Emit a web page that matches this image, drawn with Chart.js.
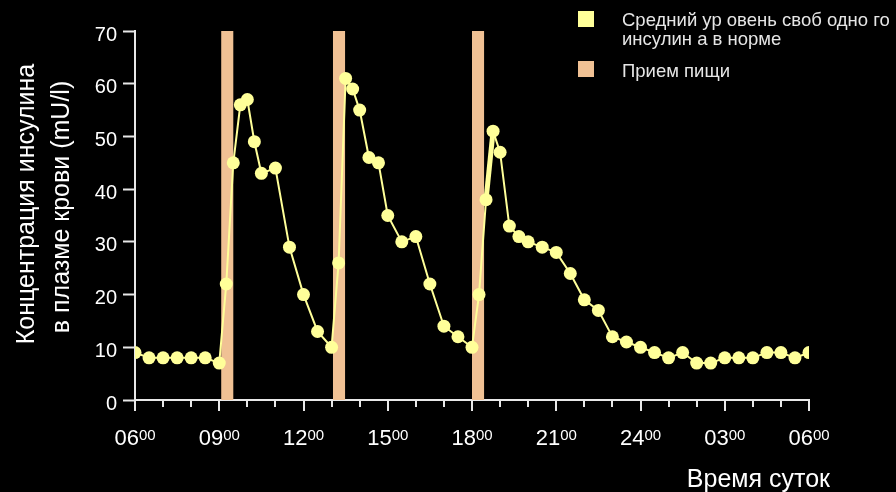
<!DOCTYPE html>
<html>
<head>
<meta charset="utf-8">
<script src="https://cdn.jsdelivr.net/npm/chart.js@4.4.1/dist/chart.umd.min.js"></script>
<style>
  html, body { margin: 0; padding: 0; background: #000; }
  canvas { display: block; }
</style>
</head>
<body>
<canvas id="chart" width="896" height="492"></canvas>
<script>
// Sampling times, in hours elapsed since 06:00
const sampleHours = [0, 0.5, 1, 1.5, 2, 2.5, 3, 3.25, 3.5, 3.75, 4, 4.25, 4.5, 5, 5.5, 6, 6.5, 7,
  7.25, 7.5, 7.75, 8, 8.33, 8.67, 9, 9.5, 10, 10.5, 11, 11.5, 12, 12.25, 12.5, 12.75, 13, 13.33, 13.67, 14,
  14.5, 15, 15.5, 16, 16.5, 17, 17.5, 18, 18.5, 19, 19.5, 20, 20.5, 21, 21.5, 22, 22.5, 23, 23.5, 24];
// Mean free insulin in plasma, mU/l
const insulinLevels = [9, 8, 8, 8, 8, 8, 7, 22, 45, 56, 57, 49, 43, 44, 29, 20, 13, 10,
  26, 61, 59, 55, 46, 45, 35, 30, 31, 22, 14, 12, 10, 20, 38, 51, 47, 33, 31, 30,
  29, 28, 24, 19, 17, 12, 11, 10, 9, 8, 9, 7, 7, 8, 8, 8, 9, 9, 8, 9];
// Meals: start and end, hours since 06:00
const mealStart = [3.07, 7.05, 12.0];
const mealEnd = [3.5, 7.48, 12.43];
// Clock labels every three hours
const clockLabels = ['06', '09', '12', '15', '18', '21', '24', '03', '06'];
const yTicks = [0, 10, 20, 30, 40, 50, 60, 70];

const FONT = "'Liberation Sans', Arial, sans-serif";
const INSULIN_COLOR = '#FFFF99';
const MEAL_COLOR = '#F0C194';
const TEXT_COLOR = '#FFFFFF';
const AXIS_COLOR = '#E8E8E8';

const points = sampleHours.map((h, i) => ({ x: h, y: insulinLevels[i] }));

const decorations = {
  id: 'decorations',
  beforeDatasetsDraw(chart) {
    const { ctx, scales: { x, y } } = chart;
    ctx.save();
    ctx.fillStyle = MEAL_COLOR;
    const top = y.getPixelForValue(yTicks[yTicks.length - 1]);
    const bottom = y.getPixelForValue(0);
    mealStart.forEach((s, i) => {
      const x0 = x.getPixelForValue(s);
      const x1 = x.getPixelForValue(mealEnd[i]);
      ctx.fillRect(x0, top, x1 - x0, bottom - top);
    });
    ctx.restore();
  },
  afterDraw(chart) {
    const { ctx, scales: { x, y } } = chart;
    const base = y.getPixelForValue(0);
    ctx.save();

    // hour tick marks, longer every three hours
    ctx.strokeStyle = AXIS_COLOR;
    ctx.lineWidth = 2;
    for (let h = 0; h <= 24; h++) {
      const px = Math.round(x.getPixelForValue(h));
      const len = h % 3 === 0 ? 11 : 7;
      ctx.beginPath();
      ctx.moveTo(px, base);
      ctx.lineTo(px, base + len);
      ctx.stroke();
    }

    // clock labels with superscript minutes
    ctx.fillStyle = TEXT_COLOR;
    ctx.textBaseline = 'alphabetic';
    ctx.textAlign = 'left';
    clockLabels.forEach((lab, i) => {
      const px = x.getPixelForValue(i * 3);
      ctx.font = `22px ${FONT}`;
      const wMain = ctx.measureText(lab).width;
      ctx.font = `15px ${FONT}`;
      const wSup = ctx.measureText('00').width;
      const left = px - (wMain + wSup) / 2;
      ctx.font = `22px ${FONT}`;
      ctx.fillText(lab, left, 445);
      ctx.font = `15px ${FONT}`;
      ctx.fillText('00', left + wMain, 440);
    });

    // x axis title
    ctx.font = `25px ${FONT}`;
    ctx.textAlign = 'right';
    ctx.fillText('Время суток', 830, 487);

    // y axis title, two rotated lines
    ctx.textAlign = 'center';
    ctx.textBaseline = 'middle';
    ctx.font = `25px ${FONT}`;
    [['Концентрация инсулина', 27, 204], ['в плазме крови (mU/l)', 62, 207]].forEach(([t, cx, cy]) => {
      ctx.save();
      ctx.translate(cx, cy);
      ctx.rotate(-Math.PI / 2);
      ctx.fillText(t, 0, 0);
      ctx.restore();
    });

    // legend
    ctx.textAlign = 'left';
    ctx.textBaseline = 'alphabetic';
    ctx.fillStyle = INSULIN_COLOR;
    ctx.fillRect(578, 11, 16, 16);
    ctx.fillStyle = MEAL_COLOR;
    ctx.fillRect(578, 61, 16, 16);
    ctx.fillStyle = '#E6E6E6';
    ctx.font = `18.5px ${FONT}`;
    ctx.fillText('Средний ур овень своб одно го', 622, 26);
    ctx.fillText('инсулин а в норме', 622, 45);
    ctx.fillText('Прием пищи', 622, 77);

    ctx.restore();
  }
};

new Chart(document.getElementById('chart'), {
  type: 'line',
  data: {
    datasets: [{
      label: 'Средний уровень свободного инсулина в норме',
      data: points,
      borderColor: INSULIN_COLOR,
      backgroundColor: INSULIN_COLOR,
      borderWidth: 2,
      pointRadius: 6.5,
      pointBorderWidth: 0,
      pointBackgroundColor: INSULIN_COLOR,
      tension: 0,
      segment: {
        borderWidth: ctx => (ctx.p0DataIndex === 32 ? 5 : 2)
      }
    }]
  },
  options: {
    responsive: false,
    devicePixelRatio: 1,
    animation: false,
    layout: { padding: { top: 31, right: 87, left: 0, bottom: 0 } },
    plugins: { legend: { display: false }, tooltip: { enabled: false } },
    scales: {
      x: {
        type: 'linear',
        min: 0,
        max: 24,
        offset: false,
        grid: { display: false },
        ticks: { display: false },
        border: { display: true, color: AXIS_COLOR, width: 2 },
        afterFit: s => { s.height = 92; }
      },
      y: {
        type: 'linear',
        min: 0,
        max: 70,
        afterBuildTicks: s => { s.ticks = yTicks.map(v => ({ value: v })); },
        grid: { drawOnChartArea: false, tickLength: 12, tickColor: AXIS_COLOR, tickWidth: 2 },
        border: { display: true, color: AXIS_COLOR, width: 2 },
        ticks: { color: TEXT_COLOR, font: { family: FONT, size: 20 }, padding: 6, labelOffset: 4 },
        afterFit: s => { s.width = 135; }
      }
    }
  },
  plugins: [decorations]
});
</script>
</body>
</html>
